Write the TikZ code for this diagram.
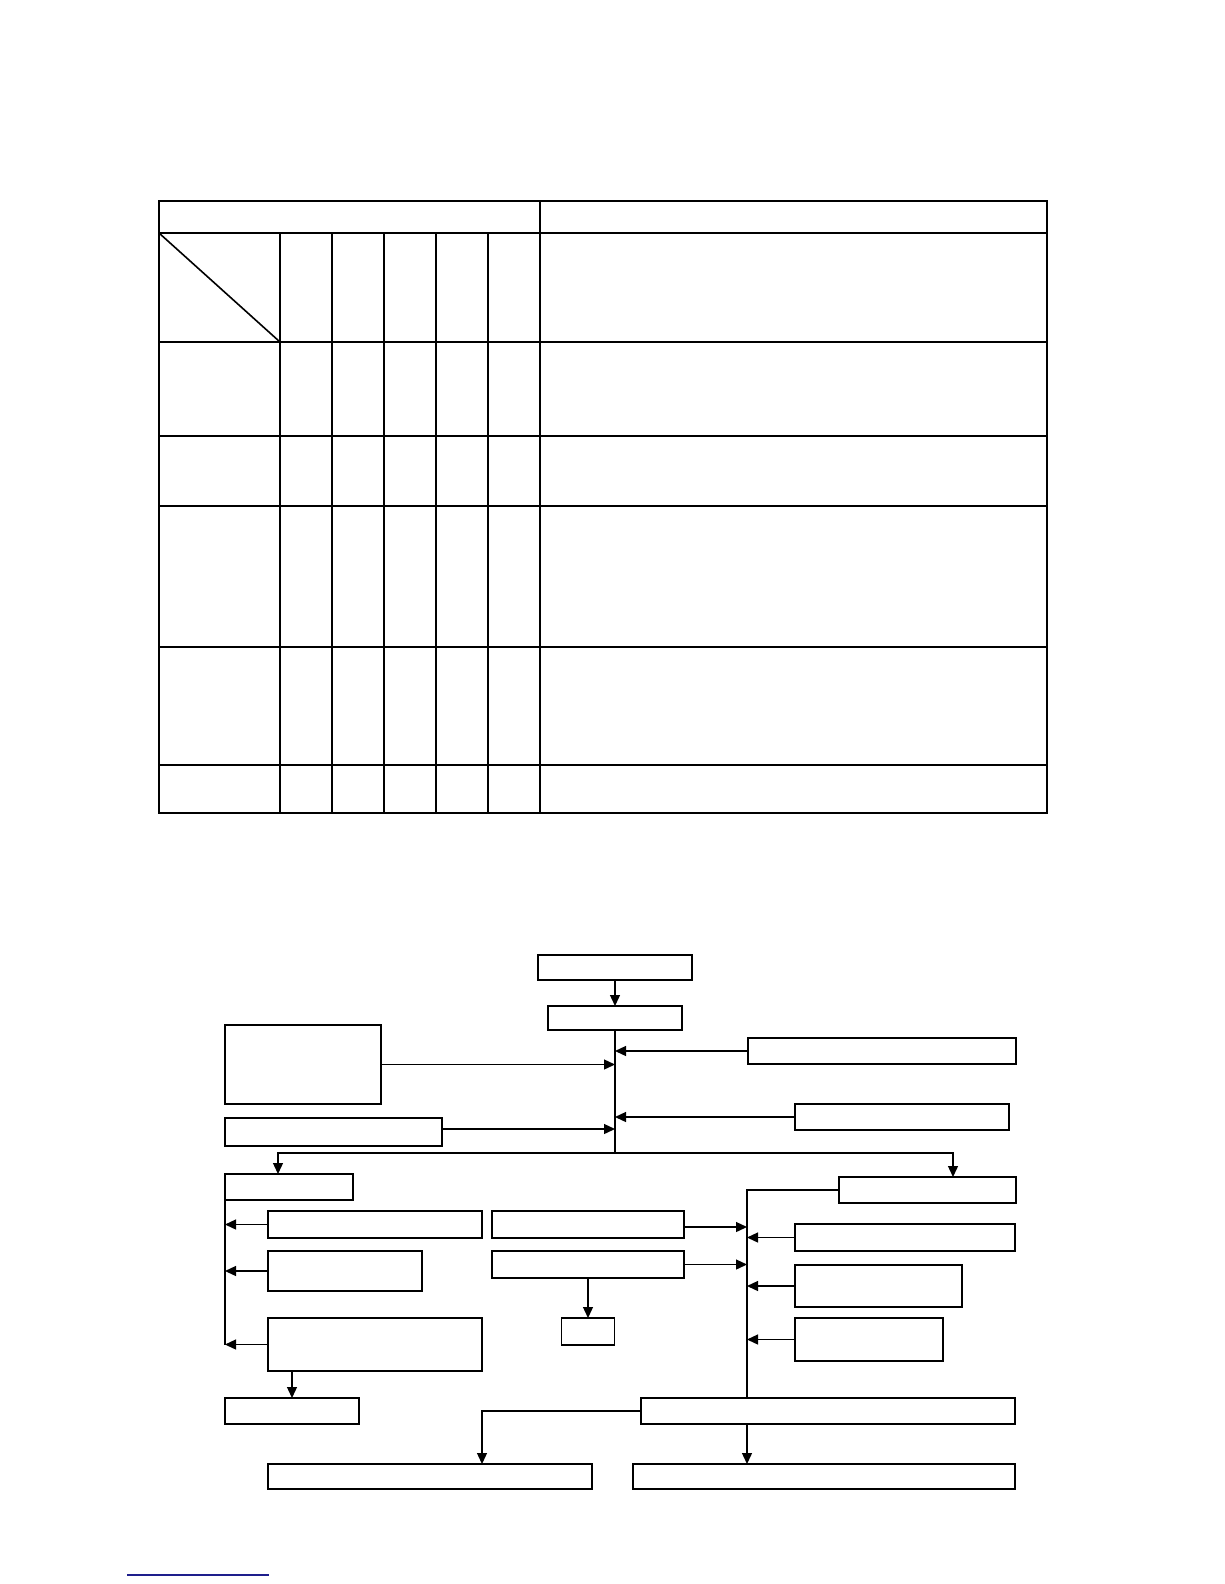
\documentclass[tikz,border=0pt]{standalone}
\usetikzlibrary{arrows.meta}
\definecolor{linkblue}{RGB}{30,30,140}
\tikzset{
  tbl/.style={line width=1.6pt},
  flow/.style={line width=1.3pt},
  box/.style={draw,flow,inner sep=0pt,outer sep=0pt},
  >={Triangle[length=11pt,width=10pt]}
}
\begin{document}
\begin{tikzpicture}[x=1pt,y=-1pt]
        \useasboundingbox (0,0) rectangle (1224,1584);
        % table
        \draw[tbl] (159,201) rectangle (1047,813);
        \foreach \y in {233,342,436,506,647,765}
            \draw[tbl] (159,\y) -- (1047,\y);
        \foreach \x in {280,332,384,436,488}
            \draw[tbl] (\x,233) -- (\x,813);
        \draw[tbl] (540,201) -- (540,813);
        \draw[tbl] (159,233) -- (280,342);
        % flow chart boxes
        \node[box,minimum width=154pt,minimum height=25pt] (top) at (615,967.5) {};
        \node[box,minimum width=134pt,minimum height=24pt] (start) at (615,1018) {};
        \node[box,minimum width=268pt,minimum height=26pt] (r1) at (882,1051) {};
        \node[box,minimum width=214pt,minimum height=26pt] (r2) at (902,1117) {};
        \node[box,minimum width=156pt,minimum height=79pt] (lt1) at (303,1064.5) {};
        \node[box,minimum width=217pt,minimum height=28pt] (lt2) at (333.5,1132) {};
        \node[box,minimum width=128pt,minimum height=26pt] (l1) at (289,1187) {};
        \node[box,minimum width=214pt,minimum height=27pt] (l2) at (375,1224.5) {};
        \node[box,minimum width=154pt,minimum height=40pt] (l3) at (345,1271) {};
        \node[box,minimum width=214pt,minimum height=53pt] (l4) at (375,1344.5) {};
        \node[box,minimum width=134pt,minimum height=26pt] (l5) at (292,1411) {};
        \node[box,minimum width=192pt,minimum height=27pt] (m1) at (588,1224.5) {};
        \node[box,minimum width=192pt,minimum height=27pt] (m2) at (588,1264.5) {};
        \node[box,minimum width=53pt,minimum height=27pt] (sm) at (588,1331.5) {};
        \node[box,minimum width=177pt,minimum height=26pt] (r0) at (927.5,1190) {};
        \node[box,minimum width=220pt,minimum height=27pt] (rr1) at (905,1237.5) {};
        \node[box,minimum width=167pt,minimum height=42pt] (rr2) at (878.5,1286) {};
        \node[box,minimum width=148pt,minimum height=43pt] (rr3) at (869,1339.5) {};
        \node[box,minimum width=374pt,minimum height=26pt] (b0) at (828,1411) {};
        \node[box,minimum width=324pt,minimum height=25pt] (bl) at (430,1476.5) {};
        \node[box,minimum width=382pt,minimum height=25pt] (br) at (824,1476.5) {};
        % main spine
        \coordinate (spinebot) at (615,1153);
        \draw[flow,->] (top) -- (start);
        \draw[flow] (start.south) -- (spinebot);
        \draw[flow,->] (r1.west) -- (r1.west -| start);
        \draw[flow,->] (r2.west) -- (r2.west -| start);
        \draw[flow,->] (lt1.east) -- (lt1.east -| start);
        \draw[flow,->] ([yshift=3pt]lt2.east) -- ([yshift=3pt]lt2.east -| start);
        \draw[flow,->] (spinebot) -| ([xshift=-11pt]l1.north);
        \draw[flow,->] (spinebot) -| ([xshift=25.5pt]r0.north);
        % left spine
        \coordinate (lspine) at (l1.south west |- l4.west);
        \draw[flow] (l1.south west) -- (lspine);
        \draw[flow,->] (l2.west) -- (l2.west -| lspine);
        \draw[flow,->] (l3.west) -- (l3.west -| lspine);
        \draw[flow,->] (l4.west) -- (lspine);
        \draw[flow,->] (l5.north |- l4.south) -- (l5.north);
        \draw[flow,->] (m2.south) -- (sm.north);
        % right spine
        \coordinate (rtop) at (747,1190);
        \draw[flow] (r0.west) -- (rtop) -- (rtop |- b0.north);
        \draw[flow,->] ([yshift=-2.5pt]m1.east) -- ([yshift=-2.5pt]m1.east -| rtop);
        \draw[flow,->] (m2.east) -- (m2.east -| rtop);
        \draw[flow,->] (rr1.west) -- (rr1.west -| rtop);
        \draw[flow,->] (rr2.west) -- (rr2.west -| rtop);
        \draw[flow,->] (rr3.west) -- (rr3.west -| rtop);
        \draw[flow,->] (rtop |- b0.south) -- (rtop |- br.north);
        \draw[flow,->] (b0.west) -| ([xshift=52pt]bl.north);
        % link underline
        \draw[linkblue,line width=1.3pt] (127,1575) -- (269,1575);
\end{tikzpicture}
\end{document}
